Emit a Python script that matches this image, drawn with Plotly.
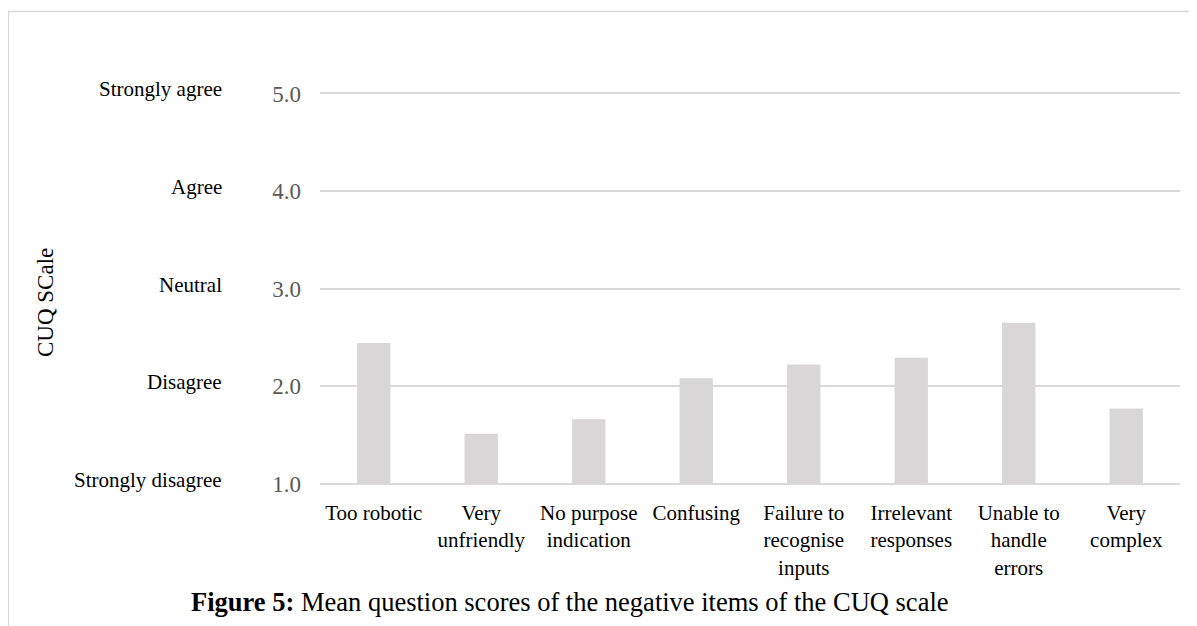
import plotly.graph_objects as go

# data
items = ["Too robotic", "Very<br>unfriendly", "No purpose<br>indication", "Confusing",
         "Failure to<br>recognise<br>inputs", "Irrelevant<br>responses",
         "Unable to<br>handle<br>errors", "Very<br>complex"]
mean_scores = [2.44, 1.51, 1.66, 2.08, 2.22, 2.29, 2.65, 1.77]
scale_values = [1, 2, 3, 4, 5]
scale_ticks = ["1.0", "2.0", "3.0", "4.0", "5.0"]
scale_words = ["Strongly disagree", "Disagree", "Neutral", "Agree", "Strongly agree"]

# page body has an 8px margin, so the figure is drawn 8px smaller
OFF = 8
W, H = 1197 - OFF, 626 - OFF
unit = 97.75           # pixels per scale point
pad = 0.025            # keep the 1.0 / 5.0 grid lines off the plot edges
L, R = 320 - OFF, 17
T = round(93 - OFF - pad * unit)
B = round(H - (484 - OFF) - pad * unit)
pw, ph = W - L - R, H - T - B

def px(x):
    # x in screenshot pixels -> paper coordinate
    return (x - OFF - L) / pw

def py(y):
    return (H - B - (y - OFF)) / ph

serif = "Liberation Serif, Times New Roman, serif"

fig = go.Figure(go.Bar(
    x=items, y=[v - 1 for v in mean_scores], base=1,
    marker=dict(color="#d8d6d7", line=dict(width=0)),
    hoverinfo="skip",
))

fig.update_layout(
    width=W, height=H,
    margin=dict(l=L, r=R, t=T, b=B),
    paper_bgcolor="white", plot_bgcolor="white",
    bargap=0.69,
    showlegend=False,
    font=dict(family=serif, color="black"),
)

fig.update_yaxes(
    range=[1 - pad, 5 + pad], tickvals=scale_values, ticktext=scale_ticks,
    showgrid=True, gridcolor="#d9d9d9", gridwidth=1.5,
    zeroline=False, showline=False,
    tickfont=dict(family=serif, size=23, color="#595959"),
    ticklabelstandoff=18,
)
fig.update_xaxes(
    showgrid=False, showline=False, zeroline=False,
    tickfont=dict(family=serif, size=21, color="black"),
    ticklabelstandoff=12,
)

# word labels for the scale
for v, w in zip(scale_values, scale_words):
    fig.add_annotation(
        x=px(224), xref="paper", y=v, yref="y", yshift=4,
        text=w, showarrow=False, xanchor="right", yanchor="middle",
        font=dict(family=serif, size=21, color="black"),
    )

# y axis title
fig.add_annotation(
    x=px(45), xref="paper", y=py(303), yref="paper",
    text="CUQ SCale", textangle=-90, showarrow=False,
    xanchor="center", yanchor="middle",
    font=dict(family=serif, size=23, color="black"),
)

# caption
fig.add_annotation(
    x=px(570), xref="paper", y=py(602), yref="paper",
    text="<b>Figure 5:</b> Mean question scores of the negative items of the CUQ scale",
    showarrow=False, xanchor="center", yanchor="middle",
    font=dict(family=serif, size=26.5, color="black"),
)

# frame around the chart
fig.add_shape(
    type="rect", xref="paper", yref="paper",
    x0=px(8.5), x1=px(1210), y0=py(640), y1=py(11.5),
    line=dict(color="#d9d9d9", width=1.3), fillcolor="rgba(0,0,0,0)",
    layer="below",
)

fig.write_html("out.html")
